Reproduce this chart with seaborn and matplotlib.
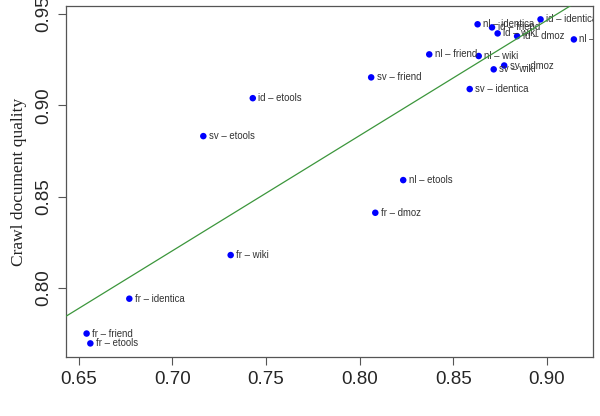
import numpy as np
import pandas as pd
import matplotlib
matplotlib.use("Agg")
import matplotlib.pyplot as plt
import seaborn as sns

# crawl labels and their (x, y) scores
labels = [
    "id \u2013 identica", "nl \u2013 identica", "id \u2013 friend", "id \u2013 wiki",
    "id \u2013 dmoz", "nl \u2013 dmoz", "nl \u2013 friend", "nl \u2013 wiki",
    "sv \u2013 dmoz", "sv \u2013 wiki", "sv \u2013 friend", "sv \u2013 identica",
    "id \u2013 etools", "sv \u2013 etools", "nl \u2013 etools", "fr \u2013 dmoz",
    "fr \u2013 wiki", "fr \u2013 identica", "fr \u2013 friend", "fr \u2013 etools",
]
x_vals = [0.8966, 0.8630, 0.8707, 0.8737, 0.8841, 0.9144, 0.8372, 0.8636,
          0.8772, 0.8716, 0.8062, 0.8588, 0.7430, 0.7166, 0.8233, 0.8084,
          0.7312, 0.6771, 0.6543, 0.6563]
y_vals = [0.9471, 0.9444, 0.9427, 0.9394, 0.9379, 0.9361, 0.9279, 0.9270,
          0.9218, 0.9197, 0.9153, 0.9089, 0.9039, 0.8831, 0.8590, 0.8411,
          0.8179, 0.7940, 0.7749, 0.7695]

x_ticks = [0.65, 0.70, 0.75, 0.80, 0.85, 0.90]
y_ticks = [0.80, 0.85, 0.90, 0.95]

df = pd.DataFrame({"x": x_vals, "y": y_vals, "label": labels})

sns.set_style("white")
plt.rcParams["font.family"] = ["Liberation Sans", "DejaVu Sans"]

fig = plt.figure(figsize=(6, 4.16), dpi=100)
ax = fig.add_axes([0.11, 0.1425, 0.878, 0.843])
ax.set_xlim(0.6433, 0.9245)
ax.set_ylim(0.7622, 0.9544)

sns.scatterplot(data=df, x="x", y="y", ax=ax, color="#0000ff", s=22,
                edgecolor="none", zorder=3)
for _, r in df.iterrows():
    t = ax.annotate(r["label"], (r["x"], r["y"]), xytext=(4, 0),
                    textcoords="offset points", va="center", ha="left",
                    fontsize=6.9, color="#333333")
    t.set_clip_path(ax.patch)
    t.set_clip_on(True)

# least-squares line across the whole panel
sns.regplot(data=df, x="x", y="y", ax=ax, scatter=False, ci=None,
            truncate=False, color="#3c963c", line_kws={"lw": 0.9, "zorder": 4})
ax.set_xlim(0.6433, 0.9245)
ax.set_ylim(0.7622, 0.9544)

ax.set_xticks(x_ticks)
ax.set_xticklabels([f"{v:.2f}" for v in x_ticks])
ax.set_yticks(y_ticks)
ax.set_yticklabels([f"{v:.2f}" for v in y_ticks], rotation=90, va="center")
ax.tick_params(axis="both", length=6, width=0.8, color="#555555",
               labelsize=13.5, pad=4, direction="out", left=True, bottom=True)
ax.set_xlabel("")
ax.set_ylabel("Crawl document quality", family=["Liberation Serif"],
              fontsize=12.5, labelpad=6, color="#222222")
for s in ax.spines.values():
    s.set_color("#555555")
    s.set_linewidth(0.9)

fig.savefig("out.png", dpi=100)
